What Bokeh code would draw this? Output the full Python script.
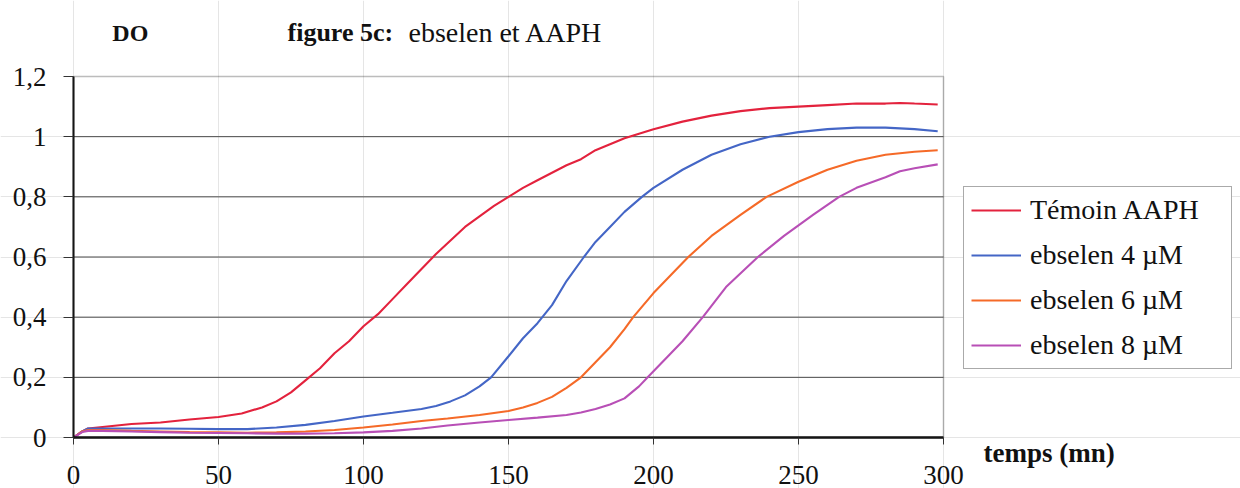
from bokeh.plotting import figure
from bokeh.models import (Range1d, FixedTicker, CustomJSTickFormatter, Legend,
                          LegendItem, Label, ColumnDataSource, LinearAxis, BoxAnnotation)
from bokeh.embed import file_html
from bokeh.resources import INLINE

# ---- data ----
t_temoin = [0, 3, 5, 10, 20, 30, 40, 50, 58, 65, 70, 75, 80, 85, 90, 95, 100, 105,
            110, 115, 120, 125, 130, 135, 140, 145, 150, 155, 160, 165, 170, 175,
            180, 185, 190, 195, 200, 210, 220, 230, 240, 250, 260, 270, 280, 285, 290, 298]
v_temoin = [0, 0.02, 0.03, 0.035, 0.045, 0.05, 0.06, 0.068, 0.08, 0.1, 0.12, 0.15,
            0.19, 0.23, 0.28, 0.32, 0.37, 0.41, 0.46, 0.51, 0.56, 0.61, 0.655, 0.70,
            0.735, 0.77, 0.80, 0.83, 0.855, 0.88, 0.905, 0.925, 0.955, 0.975, 0.995,
            1.01, 1.025, 1.05, 1.07, 1.085, 1.095, 1.10, 1.105, 1.11, 1.11, 1.112,
            1.11, 1.107]

t_eb4 = [0, 3, 5, 10, 20, 30, 40, 50, 60, 70, 80, 90, 100, 110, 120, 125, 130, 135,
         140, 144, 150, 155, 160, 165, 170, 176, 180, 185, 190, 196, 200, 210, 220,
         230, 240, 250, 260, 270, 280, 290, 298]
v_eb4 = [0, 0.02, 0.03, 0.03, 0.03, 0.03, 0.029, 0.028, 0.028, 0.033, 0.042, 0.055,
         0.07, 0.082, 0.095, 0.105, 0.12, 0.14, 0.17, 0.2, 0.27, 0.33, 0.38, 0.44,
         0.52, 0.6, 0.65, 0.70, 0.75, 0.80, 0.83, 0.89, 0.94, 0.975, 1.0, 1.015,
         1.025, 1.03, 1.03, 1.025, 1.018]

t_eb6 = [0, 3, 5, 10, 20, 30, 40, 50, 60, 70, 80, 90, 100, 110, 120, 129, 140, 150,
         155, 160, 165, 170, 175, 180, 185, 190, 193, 200, 205, 212, 220, 230, 239,
         250, 260, 270, 280, 290, 298]
v_eb6 = [0, 0.02, 0.025, 0.025, 0.022, 0.02, 0.018, 0.017, 0.016, 0.017, 0.02,
         0.025, 0.033, 0.043, 0.055, 0.063, 0.075, 0.088, 0.1, 0.115, 0.135, 0.165,
         0.2, 0.25, 0.3, 0.36, 0.4, 0.48, 0.53, 0.6, 0.67, 0.74, 0.8, 0.85, 0.89,
         0.92, 0.94, 0.95, 0.955]

t_eb8 = [0, 3, 5, 10, 20, 30, 40, 50, 60, 70, 80, 90, 100, 110, 120, 129, 140, 150,
         160, 170, 175, 180, 185, 190, 195, 198, 205, 210, 217, 225, 236, 245, 255,
         264, 270, 280, 285, 290, 298]
v_eb8 = [0, 0.018, 0.022, 0.022, 0.02, 0.018, 0.016, 0.015, 0.014, 0.013, 0.013,
         0.014, 0.017, 0.022, 0.03, 0.04, 0.05, 0.058, 0.066, 0.075, 0.083, 0.095,
         0.11, 0.13, 0.17, 0.2, 0.27, 0.32, 0.4, 0.5, 0.6, 0.67, 0.74, 0.8, 0.83,
         0.865, 0.885, 0.895, 0.908]

series_names = ["Témoin AAPH", "ebselen 4 µM", "ebselen 6 µM", "ebselen 8 µM"]
series_colors = ["#e3223d", "#4466c6", "#f56a28", "#b84fb6"]
x_ticks = [0, 50, 100, 150, 200, 250, 300]
y_ticks = [0, 0.2, 0.4, 0.6, 0.8, 1, 1.2]
y_grid_ticks = [0.2, 0.4, 0.6, 0.8, 1]
x_min, x_max = 0, 300
y_min, y_max = 0, 1.2

SERIF = "Liberation Serif"
INK = "#111111"

# The frame covers the whole canvas; the chart area (0..300, 0..1.2) sits inside it
# so that the titles and the legend are drawn inside the frame too.
W, H = 1240, 488
PX_X = 2.9                 # pixels per minute
PX_Y = 361 / 1.2           # pixels per DO unit
LEFT_PX, BOTTOM_PX = 73, 51
x0 = -LEFT_PX / PX_X
y0 = -BOTTOM_PX / PX_Y

p = figure(width=W, height=H, min_border=0,
           x_range=Range1d(x0, x0 + W / PX_X), y_range=Range1d(y0, y0 + H / PX_Y),
           x_axis_location=None, y_axis_location=None, title_location=None,
           output_backend="svg", toolbar_location=None)
p.background_fill_color = "white"
p.border_fill_color = "white"
p.outline_line_color = None

# horizontal gridlines, limited to the chart area
n = len(y_grid_ticks)
p.segment(x0=[x_min] * n, x1=[x_max] * n, y0=y_grid_ticks, y1=y_grid_ticks,
          line_color="#4a4a4a", line_width=1)
# border of the chart area
p.add_layout(BoxAnnotation(left=x_min, right=x_max, bottom=y_min, top=y_max,
                           fill_alpha=0, line_color="#222222", line_width=1.5))

fmt = CustomJSTickFormatter(code="return String(Math.round(tick*10)/10).replace('.', ',');")

ya = LinearAxis(ticker=FixedTicker(ticks=y_ticks), formatter=fmt,
                fixed_location=0, bounds=(y_min, y_max))
ya.axis_line_width = 2
ya.axis_line_color = INK
ya.major_tick_out = 10
ya.major_tick_in = 0
ya.major_tick_line_color = "#333333"
ya.minor_tick_line_color = None
ya.major_label_standoff = 17
ya.major_label_text_font = SERIF
ya.major_label_text_font_size = "27px"
ya.major_label_text_color = INK
p.add_layout(ya, "left")

xa = LinearAxis(ticker=FixedTicker(ticks=x_ticks), fixed_location=0,
                bounds=(x_min, x_max))
xa.axis_line_width = 2.5
xa.axis_line_color = INK
xa.major_tick_out = 7
xa.major_tick_in = 0
xa.major_tick_line_color = "#333333"
xa.minor_tick_line_color = None
xa.major_label_standoff = 21
xa.major_label_text_font = SERIF
xa.major_label_text_font_size = "27px"
xa.major_label_text_color = INK
p.add_layout(xa, "below")

renderers = []
for tt, vv, c in zip([t_temoin, t_eb4, t_eb6, t_eb8],
                     [v_temoin, v_eb4, v_eb6, v_eb8], series_colors):
    src = ColumnDataSource(dict(t=tt, v=vv))
    r = p.line("t", "v", source=src, line_color=c, line_width=2.1)
    renderers.append(r)

legend = Legend(items=[LegendItem(label=nm, renderers=[r])
                       for nm, r in zip(series_names, renderers)],
                location=(963, 119), orientation="vertical")
legend.padding = 7
legend.margin = 0
legend.spacing = 13
legend.glyph_width = 50
legend.glyph_height = 30
legend.label_height = 30
legend.label_width = 194
legend.label_standoff = 9
legend.label_text_font = SERIF
legend.label_text_font_size = "28px"
legend.label_text_color = INK
legend.label_text_baseline = "middle"
legend.border_line_color = "#555555"
legend.border_line_width = 1
legend.background_fill_color = "white"
legend.background_fill_alpha = 1
p.add_layout(legend)

# titles / axis name
p.add_layout(Label(x=13.4, y=1.346, text="DO", text_font=SERIF,
                   text_font_size="24px", text_font_style="bold",
                   text_baseline="middle", text_color=INK))
p.add_layout(Label(x=73.8, y=1.346, text="figure 5c:", text_font=SERIF,
                   text_font_size="26px", text_font_style="bold",
                   text_baseline="middle", text_color=INK))
p.add_layout(Label(x=115.5, y=1.346, text="ebselen et AAPH", text_font=SERIF,
                   text_font_size="28px", text_baseline="middle",
                   text_color=INK))
p.add_layout(Label(x=313.8, y=-0.053, text="temps (mn)", text_font=SERIF,
                   text_font_size="27px", text_font_style="bold",
                   text_baseline="middle", text_color=INK))

open("out.html", "w").write(file_html(p, INLINE))
